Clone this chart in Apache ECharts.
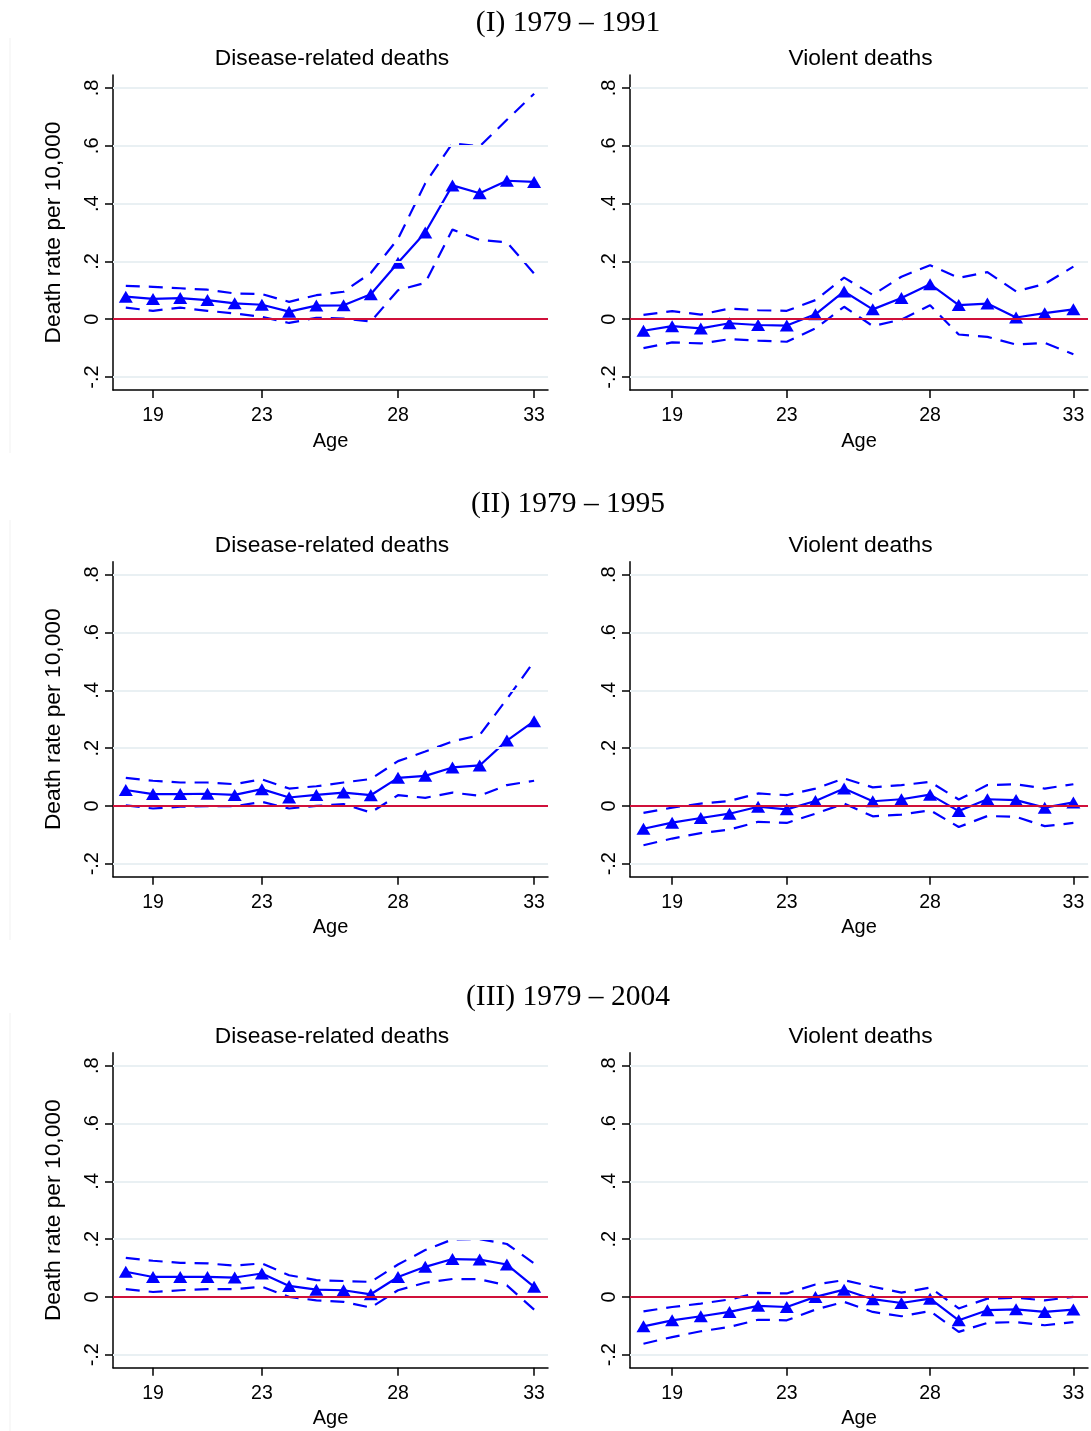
<!DOCTYPE html>
<html>
<head>
<meta charset="utf-8">
<script src="https://cdn.jsdelivr.net/npm/echarts@6/dist/echarts.min.js"></script>
<style>
html,body{margin:0;padding:0;background:#fff;}
#chart{width:1091px;height:1431px;}
</style>
</head>
<body>
<div id="chart"></div>
<script>
// ---------------- data ----------------
const ages = [18, 19, 20, 21, 22, 23, 24, 25, 26, 27, 28, 29, 30, 31, 32, 33];
const xTicks = [19, 23, 28, 33];
const yTicks = [-0.2, 0, 0.2, 0.4, 0.6, 0.8];
const yTickLabels = ['-.2', '0', '.2', '.4', '.6', '.8'];
const rowTitles = ['(I) 1979 \u2013 1991', '(II) 1979 \u2013 1995', '(III) 1979 \u2013 2004'];
const panelTitles = ['Disease-related deaths', 'Violent deaths'];
const yAxisTitle = 'Death rate per 10,000';
const xAxisTitle = 'Age';

// (I) 1979-1991
const d1_est = [0.078, 0.070, 0.073, 0.066, 0.055, 0.050, 0.026, 0.047, 0.048, 0.086, 0.195, 0.300, 0.463, 0.436, 0.479, 0.475];
const d1_hi  = [0.115, 0.112, 0.107, 0.102, 0.089, 0.087, 0.060, 0.083, 0.095, 0.160, 0.278, 0.470, 0.609, 0.598, 0.690, 0.780];
const d1_lo  = [0.040, 0.029, 0.040, 0.029, 0.020, 0.008, -0.013, 0.005, 0.002, -0.008, 0.100, 0.126, 0.310, 0.274, 0.266, 0.158];
const v1_est = [-0.040, -0.024, -0.032, -0.014, -0.020, -0.022, 0.017, 0.096, 0.034, 0.073, 0.121, 0.049, 0.054, 0.006, 0.021, 0.034];
const v1_hi  = [0.015, 0.028, 0.016, 0.037, 0.031, 0.029, 0.066, 0.144, 0.084, 0.147, 0.187, 0.143, 0.163, 0.096, 0.122, 0.182];
const v1_lo  = [-0.100, -0.080, -0.084, -0.069, -0.074, -0.078, -0.032, 0.043, -0.024, -0.001, 0.048, -0.053, -0.061, -0.088, -0.082, -0.121];
// (II) 1979-1995
const d2_est = [0.055, 0.041, 0.041, 0.042, 0.038, 0.058, 0.029, 0.038, 0.046, 0.037, 0.097, 0.104, 0.133, 0.140, 0.226, 0.293];
const d2_hi  = [0.097, 0.087, 0.081, 0.081, 0.075, 0.092, 0.060, 0.068, 0.081, 0.093, 0.155, 0.188, 0.223, 0.245, 0.370, 0.500];
const d2_lo  = [0.002, -0.009, -0.003, -0.001, -0.001, 0.014, -0.009, 0.000, 0.006, -0.023, 0.037, 0.028, 0.046, 0.035, 0.072, 0.087];
const v2_est = [-0.079, -0.058, -0.042, -0.027, -0.003, -0.012, 0.017, 0.060, 0.016, 0.023, 0.039, -0.018, 0.023, 0.020, -0.006, 0.012];
const v2_hi  = [-0.024, -0.006, 0.008, 0.017, 0.043, 0.037, 0.060, 0.095, 0.064, 0.072, 0.083, 0.022, 0.072, 0.075, 0.060, 0.075];
const v2_lo  = [-0.136, -0.113, -0.094, -0.082, -0.055, -0.059, -0.027, 0.008, -0.036, -0.030, -0.015, -0.073, -0.035, -0.038, -0.070, -0.059];
// (III) 1979-2004
const d3_est = [0.087, 0.069, 0.069, 0.069, 0.067, 0.081, 0.038, 0.025, 0.023, 0.009, 0.069, 0.104, 0.131, 0.129, 0.112, 0.035];
const d3_hi  = [0.135, 0.125, 0.118, 0.116, 0.108, 0.116, 0.075, 0.058, 0.055, 0.052, 0.112, 0.162, 0.199, 0.200, 0.183, 0.116];
const d3_lo  = [0.027, 0.017, 0.023, 0.027, 0.027, 0.035, 0.000, -0.012, -0.017, -0.037, 0.023, 0.049, 0.062, 0.061, 0.040, -0.044];
const v3_est = [-0.102, -0.081, -0.067, -0.052, -0.031, -0.035, 0.000, 0.025, -0.008, -0.021, -0.006, -0.081, -0.046, -0.043, -0.052, -0.044];
const v3_hi  = [-0.050, -0.035, -0.023, -0.009, 0.014, 0.012, 0.043, 0.058, 0.035, 0.015, 0.032, -0.040, -0.006, -0.003, -0.012, 0.000];
const v3_lo  = [-0.162, -0.139, -0.119, -0.104, -0.079, -0.081, -0.044, -0.017, -0.052, -0.067, -0.049, -0.121, -0.090, -0.087, -0.098, -0.087];

const panels = [
  [d1_est, d1_hi, d1_lo], [v1_est, v1_hi, v1_lo],
  [d2_est, d2_hi, d2_lo], [v2_est, v2_hi, v2_lo],
  [d3_est, d3_hi, d3_lo], [v3_est, v3_hi, v3_lo]
];

// ---------------- layout ----------------
const SANS = 'Liberation Sans, Arial, sans-serif';
const SERIF = 'Liberation Serif, Times New Roman, serif';
const BLUE = '#0000ff';
const rowTop = [75, 561.7, 1052.7];
const rowTitleY = [23, 504.5, 997];
const subTitleY = [59, 545.5, 1037];
const borderY = [[38, 453], [520, 940], [1013, 1431]];
const plotH = 315;
const cols = [{left: 113, width: 435}, {left: 630, width: 458}];
const XMIN = 17.53, XMAX = 33.51, YMIN = -0.245, YMAX = 0.845;

const pairs = arr => arr.map((v, i) => [ages[i], v]);
const fmtY = v => {
  const i = yTicks.findIndex(t => Math.abs(t - v) < 1e-9);
  return i >= 0 ? yTickLabels[i] : '';
};

const grid = [], xAxis = [], yAxis = [], series = [], graphic = [];

for (let r = 0; r < 3; r++) {
  graphic.push({
    type: 'text', silent: true,
    style: {x: 568, y: rowTitleY[r], text: rowTitles[r], textAlign: 'center', textVerticalAlign: 'middle',
            font: '29.5px ' + SERIF, fill: '#000'}
  });
  graphic.push({
    type: 'line', silent: true,
    shape: {x1: 10, y1: borderY[r][0], x2: 10, y2: borderY[r][1]},
    style: {stroke: '#f1f1f1', lineWidth: 1}
  });
  for (let c = 0; c < 2; c++) {
    const idx = r * 2 + c;
    const g = cols[c];
    grid.push({left: g.left, top: rowTop[r], width: g.width, height: plotH, outerBoundsMode: 'none', containLabel: false});
    graphic.push({
      type: 'text', silent: true,
      style: {x: g.left + g.width / 2 + 1.5, y: subTitleY[r], text: panelTitles[c], textAlign: 'center', textVerticalAlign: 'middle',
              font: '22.8px ' + SANS, fill: '#000'}
    });
    xAxis.push({
      type: 'value', gridIndex: idx, min: XMIN, max: XMAX,
      name: xAxisTitle, nameLocation: 'middle', nameGap: 41,
      nameTextStyle: {fontFamily: SANS, fontSize: 20, color: '#000'},
      axisLine: {show: true, onZero: false, lineStyle: {color: '#000', width: 1.5}},
      axisTick: {show: true, length: 8, customValues: xTicks, lineStyle: {color: '#000', width: 1.5}},
      axisLabel: {show: true, customValues: xTicks, margin: 16, fontFamily: SANS, fontSize: 19.5, color: '#000',
                  formatter: v => String(v)},
      splitLine: {show: false}
    });
    yAxis.push({
      type: 'value', gridIndex: idx, min: YMIN, max: YMAX,
      name: c === 0 ? yAxisTitle : '', nameLocation: 'middle', nameGap: 48, nameRotate: 90,
      nameTextStyle: {fontFamily: SANS, fontSize: 22.8, color: '#000'},
      axisLine: {show: true, onZero: false, lineStyle: {color: '#000', width: 1.5}},
      axisTick: {show: true, length: 8, customValues: yTicks, lineStyle: {color: '#000', width: 1.5}},
      axisLabel: {show: true, customValues: yTicks, rotate: 90, margin: 11, fontFamily: SANS, fontSize: 20, color: '#000',
                  formatter: fmtY},
      splitLine: {show: false}
    });
    const [est, hi, lo] = panels[idx];
    // reference lines (grid lines + zero line)
    series.push({
      type: 'line', xAxisIndex: idx, yAxisIndex: idx, data: [], z: 1, silent: true,
      markLine: {
        silent: true, symbol: ['none', 'none'], label: {show: false}, animation: false,
        data: yTicks.map(t => ({
          yAxis: t,
          lineStyle: t === 0 ? {color: '#d0103a', width: 2, type: 'solid'} : {color: '#e9f0f3', width: 1.8, type: 'solid'}
        }))
      }
    });
    [hi, lo].forEach(band => {
      series.push({
        type: 'line', xAxisIndex: idx, yAxisIndex: idx, data: pairs(band), z: 3,
        showSymbol: false, symbol: 'none', silent: true,
        lineStyle: {color: BLUE, width: 2.2, type: [14, 9]}
      });
    });
    series.push({
      type: 'line', xAxisIndex: idx, yAxisIndex: idx, data: pairs(est), z: 4,
      symbol: 'triangle', symbolSize: [14, 12], showSymbol: true, silent: true,
      itemStyle: {color: BLUE, borderWidth: 0},
      lineStyle: {color: BLUE, width: 2.2, type: 'solid'}
    });
  }
}

const chart = echarts.init(document.getElementById('chart'), null, {renderer: 'canvas'});
chart.setOption({
  animation: false,
  backgroundColor: '#fff',
  grid, xAxis, yAxis, series, graphic
});
</script>
</body>
</html>
